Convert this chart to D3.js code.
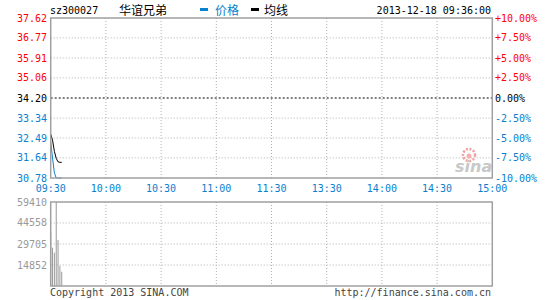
<!DOCTYPE html>
<html>
<head>
<meta charset="utf-8">
<script src="https://cdn.jsdelivr.net/npm/d3@7"></script>
<style>
body { margin: 0; background: #fff; }
svg text { font-family: "DejaVu Sans Mono", monospace; font-size: 10px; }
</style>
</head>
<body>
<svg id="chart" width="545" height="300"></svg>
<script>
var stockCode = "sz300027";
var stockName = "华谊兄弟";
var stamp = "2013-12-18 09:36:00";
var prevClose = 34.20;

var priceTicks = [37.62, 36.77, 35.91, 35.06, 34.20, 33.34, 32.49, 31.64, 30.78]; //left labels
var pctTicks = ["+10.00%", "+7.50%", "+5.00%", "+2.50%", "0.00%", "-2.50%", "-5.00%", "-7.50%", "-10.00%"];
var timeMinutes = [0, 30, 60, 90, 120, 150, 180, 210, 240]; //minutes since open
var timeLabels = ["09:30", "10:00", "10:30", "11:00", "11:30", "13:30", "14:00", "14:30", "15:00"];
var volTicks = [59410, 44558, 29705, 14852];

var prices = [32.33, 31.64, 31.00, 30.78, 30.78, 30.78, 30.78]; //09:30 - 09:36
var avgPrices = [32.66, 32.40, 31.92, 31.62, 31.47, 31.45, 31.45];
var volumes = [38400, 27100, 23550, 59410, 32500, 14150, 10100];

var svg = d3.select("#chart");
var left = 50.7, right = 492.3;
var blue = "#0a80d0", red = "#ff0000", gray = "#999";

var x = d3.scaleLinear().domain([0, 240]).range([left, right]);
var y = d3.scaleLinear().domain([30.78, 37.62]).range([178, 18]);
var yVol = d3.scaleLinear().domain([0, 59410]).range([286, 202]);

// grid lines, price panel
svg.append("g").selectAll("line").data(timeMinutes.slice(1, -1)).enter().append("line")
    .attr("x1", d => x(d)).attr("x2", d => x(d)).attr("y1", 18).attr("y2", 178)
    .attr("stroke", "#b0b0b0").attr("stroke-dasharray", "1,2");
svg.append("g").selectAll("line").data(priceTicks.slice(1, -1).filter(d => d !== prevClose)).enter().append("line")
    .attr("x1", left).attr("x2", right).attr("y1", d => y(d)).attr("y2", d => y(d))
    .attr("stroke", "#b0b0b0").attr("stroke-dasharray", "1,2");
svg.append("line").attr("x1", left).attr("x2", right).attr("y1", y(prevClose)).attr("y2", y(prevClose))
    .attr("stroke", "#000").attr("stroke-dasharray", "2,2");

// grid lines, volume panel
svg.append("g").selectAll("line").data(timeMinutes.slice(1, -1)).enter().append("line")
    .attr("x1", d => x(d)).attr("x2", d => x(d)).attr("y1", 202).attr("y2", 286)
    .attr("stroke", "#b0b0b0").attr("stroke-dasharray", "1,2");
svg.append("g").selectAll("line").data(volTicks.slice(1)).enter().append("line")
    .attr("x1", left).attr("x2", right).attr("y1", d => yVol(d)).attr("y2", d => yVol(d))
    .attr("stroke", "#b0b0b0").attr("stroke-dasharray", "1,2");

// watermark
var wm = svg.append("g").attr("transform", "translate(455,172)");
wm.append("circle").attr("cx", 14).attr("cy", -17).attr("r", 6).attr("fill", "none")
    .attr("stroke", "#f4a0a0").attr("stroke-width", 2.5).attr("stroke-dasharray", "2,1.5");
wm.append("circle").attr("cx", 14).attr("cy", -16).attr("r", 2.5).attr("fill", "#f6b0b0");
wm.append("text").attr("x", 0).attr("y", 0).text("sina")
    .style("font-family", "DejaVu Sans").style("font-size", "16px").style("font-weight", "bold")
    .style("font-style", "italic").attr("fill", "#c8c8c8");

// volume bars
svg.append("g").selectAll("line").data(volumes).enter().append("line")
    .attr("x1", (d, i) => x(i)).attr("x2", (d, i) => x(i))
    .attr("y1", 286).attr("y2", d => yVol(d))
    .attr("stroke", gray).attr("stroke-width", 1);

// price & average lines
var line = d3.line().x((d, i) => x(i)).y(d => y(d));
svg.append("path").datum(avgPrices).attr("d", line).attr("fill", "none").attr("stroke", "#000");
svg.append("path").datum(prices).attr("d", line).attr("fill", "none").attr("stroke", blue);

// panel borders
svg.append("rect").attr("x", left).attr("y", 18).attr("width", right - left).attr("height", 160)
    .attr("fill", "none").attr("stroke", "#a0a0a0").attr("stroke-width", 1.5);
svg.append("rect").attr("x", left).attr("y", 202).attr("width", right - left).attr("height", 84)
    .attr("fill", "none").attr("stroke", "#a0a0a0").attr("stroke-width", 1.5);

// left price labels
svg.append("g").selectAll("text").data(priceTicks).enter().append("text")
    .attr("x", 47).attr("y", d => y(d) + 3.5).attr("text-anchor", "end")
    .attr("fill", d => d > prevClose ? red : (d === prevClose ? "#000" : blue))
    .text(d => d.toFixed(2));

// right percent labels
svg.append("g").selectAll("text").data(pctTicks).enter().append("text")
    .attr("x", 495).attr("y", (d, i) => y(priceTicks[i]) + 3.5)
    .attr("fill", d => d[0] === "+" ? red : (d[0] === "-" ? blue : "#000"))
    .text(d => d);

// time labels
svg.append("g").selectAll("text").data(timeMinutes).enter().append("text")
    .attr("x", d => x(d)).attr("y", 192).attr("text-anchor", "middle").attr("fill", blue)
    .text((d, i) => timeLabels[i]);

// volume labels
svg.append("g").selectAll("text").data(volTicks).enter().append("text")
    .attr("x", 47).attr("y", d => yVol(d) + 3.5).attr("text-anchor", "end").attr("fill", gray)
    .text(d => d);

// header
svg.append("text").attr("x", 50).attr("y", 14).text(stockCode);
svg.append("text").attr("x", 119).attr("y", 15).style("font-family", "Noto Sans CJK SC").style("font-size", "12px").text(stockName);
svg.append("rect").attr("x", 200).attr("y", 8).attr("width", 8).attr("height", 3).attr("fill", blue);
svg.append("text").attr("x", 215).attr("y", 15).attr("fill", blue).style("font-family", "Noto Sans CJK SC").style("font-size", "12px").text("价格");
svg.append("rect").attr("x", 251).attr("y", 8).attr("width", 8).attr("height", 3).attr("fill", "#000");
svg.append("text").attr("x", 264).attr("y", 15).style("font-family", "Noto Sans CJK SC").style("font-size", "12px").text("均线");
svg.append("text").attr("x", 491).attr("y", 14).attr("text-anchor", "end").text(stamp);

// footer
svg.append("text").attr("x", 50).attr("y", 296).attr("fill", "#444").text("Copyright 2013 SINA.COM");
svg.append("text").attr("x", 491).attr("y", 296).attr("text-anchor", "end").attr("fill", "#444").text("http://finance.sina.com.cn");
</script>
</body>
</html>
